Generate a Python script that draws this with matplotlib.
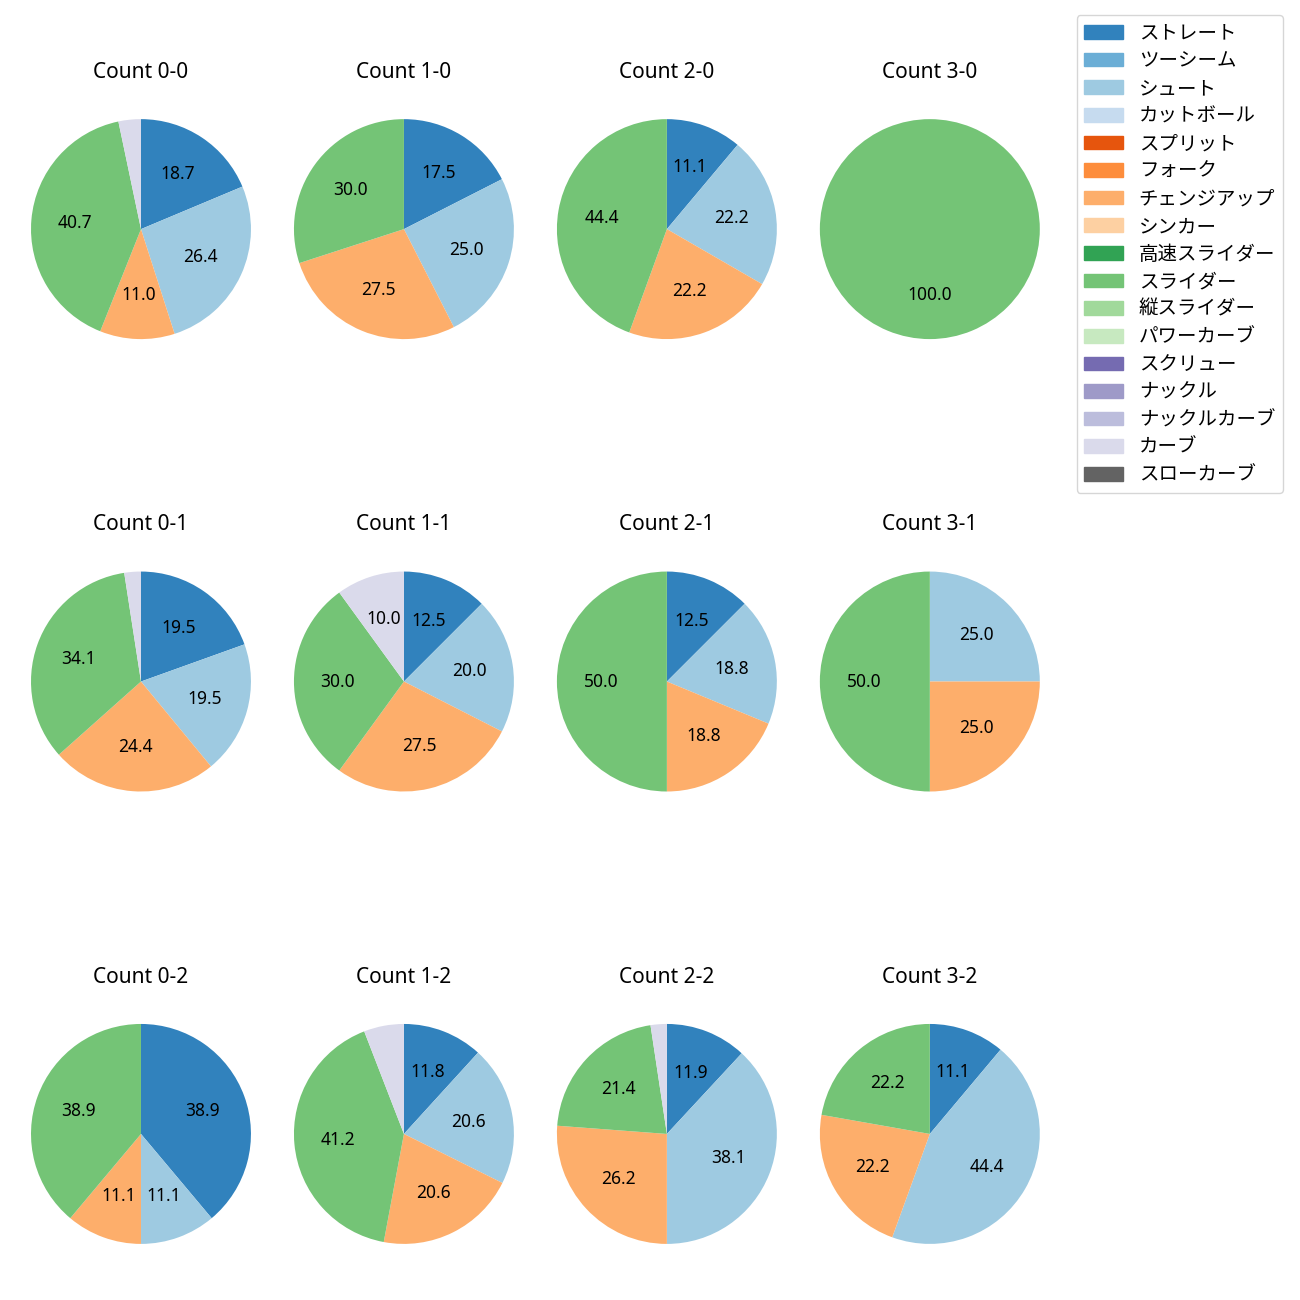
import numpy as np
import matplotlib.pyplot as plt
import matplotlib.patches as mpatches

plt.rcParams['font.family'] = ['Noto Sans', 'Noto Sans CJK JP', 'DejaVu Sans']
plt.rcParams['font.size'] = 12

pitch_types = ['ストレート', 'ツーシーム', 'シュート', 'カットボール', 'スプリット',
               'フォーク', 'チェンジアップ', 'シンカー', '高速スライダー', 'スライダー',
               '縦スライダー', 'パワーカーブ', 'スクリュー', 'ナックル', 'ナックルカーブ',
               'カーブ', 'スローカーブ']

# pitch counts per ball-strike count for the pitches that were thrown
used = ['ストレート', 'シュート', 'チェンジアップ', 'スライダー', 'カーブ']
counts = {
    '0-0': [17, 24, 10, 37, 3],
    '1-0': [7, 10, 11, 12, 0],
    '2-0': [1, 2, 2, 4, 0],
    '3-0': [0, 0, 0, 1, 0],
    '0-1': [8, 8, 10, 14, 1],
    '1-1': [5, 8, 11, 12, 4],
    '2-1': [2, 3, 3, 8, 0],
    '3-1': [0, 1, 1, 2, 0],
    '0-2': [7, 2, 2, 7, 0],
    '1-2': [4, 7, 7, 14, 2],
    '2-2': [5, 16, 11, 9, 1],
    '3-2': [1, 4, 2, 2, 0],
}
balls = [0, 1, 2, 3]
strikes = [0, 1, 2]

cmap = plt.get_cmap('tab20c')
colors = {name: cmap(i) for i, name in enumerate(pitch_types)}


def fmt_pct(p):
    return f'{p:.1f}' if p >= 7 else ''


fig, axes = plt.subplots(3, 4, figsize=(13, 13), dpi=100)
fig.subplots_adjust(left=0.0027, right=0.821, top=0.9296, bottom=0.0219,
                    wspace=-0.0436, hspace=0.644)

for s in strikes:
    for b in balls:
        ax = axes[s, b]
        key = f'{b}-{s}'
        vals = np.array(counts[key], dtype=float)
        mask = vals > 0
        ax.pie(vals[mask], colors=[colors[n] for n, m in zip(used, mask) if m],
               startangle=90, counterclock=False, autopct=fmt_pct,
               textprops={'fontsize': 12.5})
        ax.set_title(f'Count {key}', fontsize=15, pad=10)

handles = [mpatches.Patch(color=colors[n], label=n) for n in pitch_types]
fig.legend(handles=handles, loc='upper right', labelspacing=0.34,
           prop={'family': ['Noto Sans CJK JP'], 'size': 14},
           bbox_to_anchor=(1283 / 1300, 1 - 15 / 1300), borderaxespad=0)

plt.savefig('out.png', dpi=100)
